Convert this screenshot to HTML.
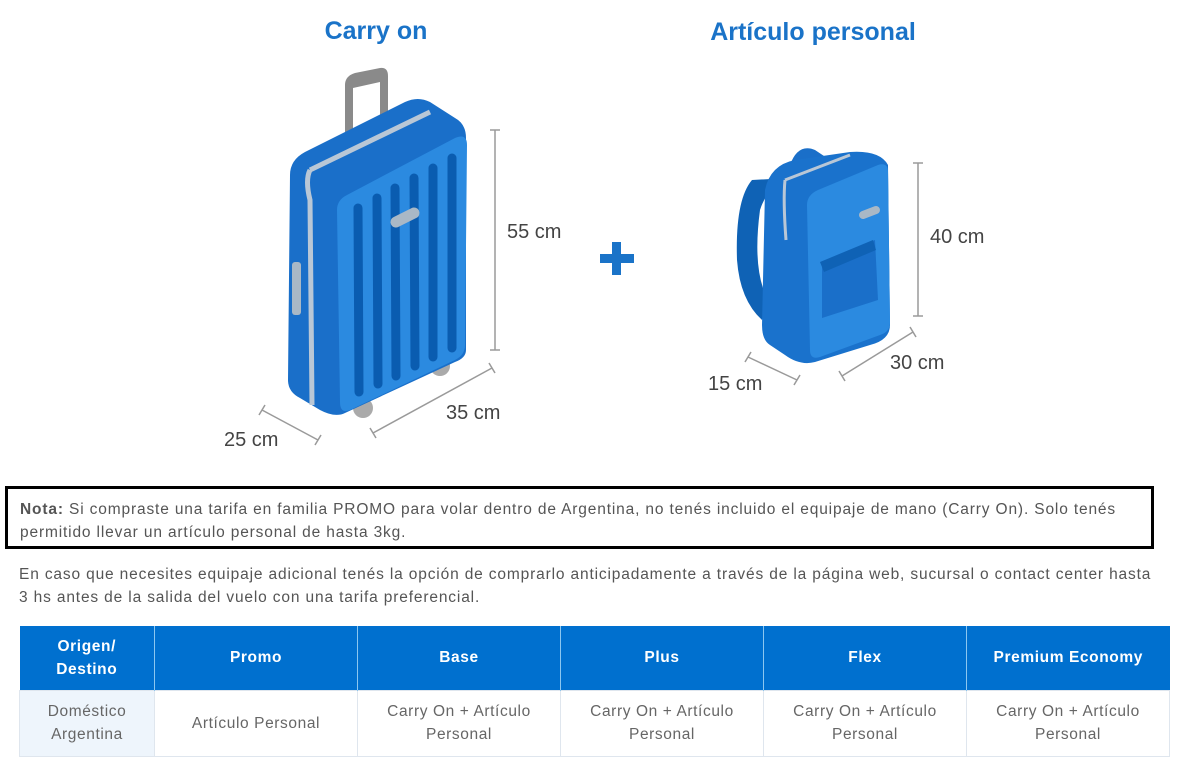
<!DOCTYPE html>
<html><head><meta charset="utf-8"><style>
*{margin:0;padding:0;box-sizing:border-box}
body{width:1180px;height:770px;background:#fff;position:relative;overflow:hidden;font-family:"Liberation Sans",sans-serif;color:#555}
svg{position:absolute;left:0;top:0}
.nota{position:absolute;left:5px;top:486px;width:1149px;height:63px;border:3px solid #000;padding:10px 0 0 12px;font-size:15.5px;line-height:22.5px;color:#555;letter-spacing:0.85px}
.nota b{color:#555}
.p{position:absolute;left:19px;top:563px;width:1146px;font-size:15.5px;line-height:23px;color:#555;letter-spacing:0.85px}
table{position:absolute;left:19px;top:626px;width:1151px;border-collapse:collapse;font-size:15.5px;letter-spacing:0.6px}
th{background:#0070cf;color:#fff;height:64px;font-weight:bold;border-left:1px solid #8cc7f0;line-height:23px}
td{height:66px;text-align:center;color:#666;border:1px solid #dfe6ee;line-height:23px}
td:first-child{background:#eef5fc}
</style></head><body>
<svg width="1180" height="480" viewBox="0 0 1180 480">
<g font-family="Liberation Sans,sans-serif" fill="#1a73c8" font-weight="bold" font-size="25" text-anchor="middle">
<text x="376" y="39">Carry on</text><text x="813" y="40">Artículo personal</text></g>
<rect x="600" y="254" width="34" height="9" fill="#1a73c8"/><rect x="612" y="242" width="9" height="33" fill="#1a73c8"/>
<path d="M345,147 L345,85 Q345,76 355,73 L380,68 Q388,67 388,76 L388,128 L380,130 L380,82 L353,88 L353,147 Z" fill="#8a8a8a"/>
<circle cx="363" cy="408" r="10" fill="#aaa"/><circle cx="440" cy="366" r="10" fill="#aaa"/>
<path d="M290,175 Q290,160 305,152 L405,102 Q418,96 430,102 L455,118 Q466,124 466,138 L466,350 Q466,358 455,362 L345,413 Q335,418 320,410 L300,398 Q288,392 288,380 Z" fill="#1a6fc9"/>
<path d="M310,170 L430,112" stroke="#b9c7d6" stroke-width="5"/>
<path d="M310,170 Q305,180 310,200 L312,405" stroke="#b9c7d6" stroke-width="5" fill="none"/>
<path d="M337,210 Q337,200 347,195 L455,138 Q467,133 467,145 L465,345 Q465,355 455,360 L350,410 Q340,414 340,402 Z" fill="#2b8ae0"/>
<g stroke="#0a5cb0" stroke-width="9" stroke-linecap="round">
<line x1="358" y1="208" x2="359" y2="392"/><line x1="377" y1="198" x2="378" y2="384"/><line x1="395" y1="188" x2="396" y2="376"/><line x1="414" y1="178" x2="415" y2="366"/><line x1="433" y1="168" x2="433" y2="357"/><line x1="452" y1="158" x2="452" y2="348"/></g>
<path d="M396,222 L414,213" stroke="#a9b8c6" stroke-width="11" stroke-linecap="round"/>
<rect x="292" y="262" width="9" height="53" rx="3" fill="#a9b8c6"/>
<path d="M752,180 Q735,200 737,260 Q740,300 762,320 L768,300 Q752,270 760,210 Q768,185 790,178 Z" fill="#0f62b5"/>
<path d="M790,165 Q798,143 815,150 L830,160 L820,170 Q812,158 800,168 Z" fill="#1a6fc9"/>
<path d="M765,190 Q770,165 795,160 L850,152 Q880,150 888,165 L890,325 Q890,340 870,345 L815,362 Q800,366 785,355 L770,345 Q762,340 762,325 Z" fill="#1a72cc"/>
<path d="M785,180 L850,155" stroke="#b9c7d6" stroke-width="3"/>
<path d="M785,180 Q783,200 786,240" stroke="#b9c7d6" stroke-width="3" fill="none"/>
<path d="M807,205 Q807,195 818,190 L878,165 Q888,162 888,172 L890,322 Q890,332 880,335 L820,357 Q810,360 810,350 Z" fill="#2b8ae0"/>
<path d="M822,262 L875,240 L878,300 L822,318 Z" fill="#1a6fc9"/>
<path d="M820,262 L873,240 L876,250 L824,272 Z" fill="#0f62b5"/>
<path d="M863,215 L876,210" stroke="#a9b8c6" stroke-width="8" stroke-linecap="round"/>
<g stroke="#9a9a9a" stroke-width="1.5">
<line x1="495" y1="130" x2="495" y2="350"/><line x1="490" y1="130" x2="500" y2="130"/><line x1="490" y1="350" x2="500" y2="350"/>
<line x1="373" y1="433" x2="492" y2="368"/><line x1="370" y1="428" x2="376" y2="438"/><line x1="489" y1="363" x2="495" y2="373"/>
<line x1="262" y1="410" x2="318" y2="440"/><line x1="259" y1="415" x2="265" y2="405"/><line x1="315" y1="445" x2="321" y2="435"/>
<line x1="918" y1="163" x2="918" y2="316"/><line x1="913" y1="163" x2="923" y2="163"/><line x1="913" y1="316" x2="923" y2="316"/>
<line x1="842" y1="376" x2="913" y2="332"/><line x1="839" y1="371" x2="845" y2="381"/><line x1="910" y1="327" x2="916" y2="337"/>
<line x1="748" y1="357" x2="797" y2="380"/><line x1="745" y1="362" x2="751" y2="352"/><line x1="794" y1="385" x2="800" y2="375"/>
</g>
<g font-family="Liberation Sans,sans-serif" fill="#444" font-size="20">
<text x="507" y="238">55 cm</text><text x="446" y="419">35 cm</text><text x="224" y="446">25 cm</text>
<text x="930" y="243">40 cm</text><text x="890" y="369">30 cm</text><text x="708" y="390">15 cm</text></g>
</svg>
<div class="nota"><b>Nota:</b> Si compraste una tarifa en familia PROMO para volar dentro de Argentina, no tenés incluido el equipaje de mano (Carry On). Solo tenés permitido llevar un artículo personal de hasta 3kg.</div>
<div class="p">En caso que necesites equipaje adicional tenés la opción de comprarlo anticipadamente a través de la página web, sucursal o contact center hasta 3 hs antes de la salida del vuelo con una tarifa preferencial.</div>
<table>
<tr><th style="width:135px;border-left:none">Origen/<br>Destino</th><th style="width:203px">Promo</th><th style="width:203px">Base</th><th style="width:203px">Plus</th><th style="width:203px">Flex</th><th>Premium Economy</th></tr>
<tr><td>Doméstico<br>Argentina</td><td>Artículo Personal</td><td>Carry On + Artículo<br>Personal</td><td>Carry On + Artículo<br>Personal</td><td>Carry On + Artículo<br>Personal</td><td>Carry On + Artículo<br>Personal</td></tr>
</table>
</body></html>
